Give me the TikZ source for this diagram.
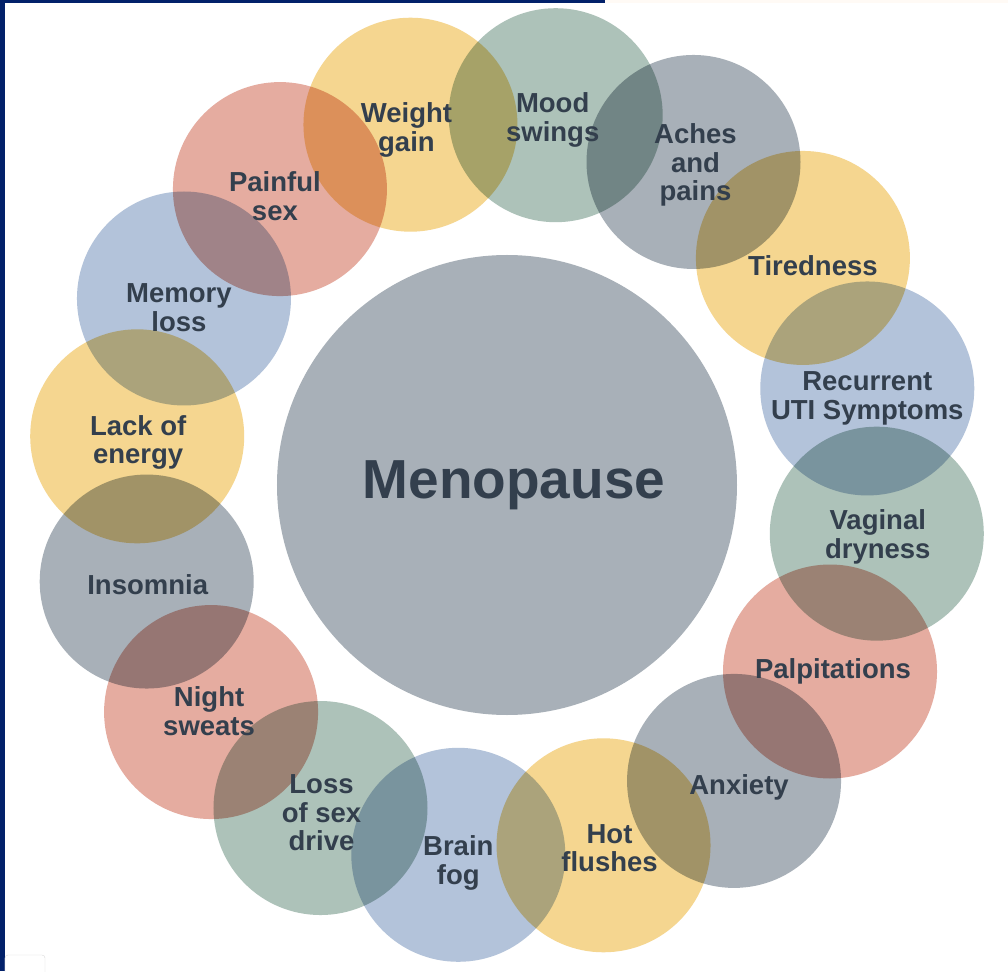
\documentclass[tikz,border=0pt]{standalone}
\usepackage{fontspec}
\setmainfont{Liberation Sans}

\definecolor{zolty}{HTML}{F5D690}
\definecolor{zielony}{HTML}{ADC2B9}
\definecolor{szary}{HTML}{A8B0B8}
\definecolor{niebieski}{HTML}{B3C3DA}
\definecolor{czerwony}{HTML}{E5ACA0}
\definecolor{tekst}{HTML}{333F4D}
\definecolor{ramka}{HTML}{02216A}

\begin{document}
\begin{tikzpicture}[x = 1pt, y = 1pt,
		bubble/.style = {circle, minimum size = 214pt, inner sep = 0pt, blend mode = multiply},
		napis/.style = {align = center, inner sep = 0pt, yshift = -3, text = tekst, font = \bfseries\fontsize{27.5}{28.5}\selectfont}]
		\useasboundingbox (-507,-486) rectangle (501,485);
		\fill[white] (-507,-486) rectangle (501,485);
		
		% srodkowe kolo
		\node[bubble, fill = szary, minimum size = 460pt] (meno) at (0,0) {};
		\node[napis, xshift = 7, yshift = 3, font = \bfseries\fontsize{55}{60}\selectfont] (meno-t) at (meno) {Menopause};
		
		% objawy dookola, co 22.5 stopnia
		\node[bubble, fill = zolty] (weight) at (105:373) {};
		\node[bubble, fill = zielony] (mood) at (82.5:373) {};
		\node[bubble, fill = szary] (aches) at (60:373) {};
		\node[bubble, fill = zolty] (tired) at (37.5:373) {};
		\node[bubble, fill = niebieski] (uti) at (15:373) {};
		\node[bubble, fill = zielony] (dry) at (-7.5:373) {};
		\node[bubble, fill = czerwony] (palp) at (-30:373) {};
		\node[bubble, fill = szary] (anx) at (-52.5:373) {};
		\node[bubble, fill = zolty] (hot) at (-75:373) {};
		\node[bubble, fill = niebieski] (fog) at (-97.5:373) {};
		\node[bubble, fill = zielony] (libido) at (-120:373) {};
		\node[bubble, fill = czerwony] (night) at (-142.5:373) {};
		\node[bubble, fill = szary] (insom) at (-165:373) {};
		\node[bubble, fill = zolty] (energy) at (172.5:373) {};
		\node[bubble, fill = niebieski] (memory) at (150:373) {};
		\node[bubble, fill = czerwony] (pain) at (127.5:373) {};
		
		% napisy (troche przesuniete wzgledem srodkow)
		\node[napis, xshift = -4, yshift = -2] (weight-t) at (weight) {Weight\\gain};
		\node[napis, xshift = -3, yshift = -2] (mood-t) at (mood) {Mood\\swings};
		\node[napis, xshift = 2] (aches-t) at (aches) {Aches\\and\\pains};
		\node[napis, xshift = 10, yshift = -5] (tired-t) at (tired) {Tiredness};
		\node[napis, yshift = -7] (uti-t) at (uti) {Recurrent\\UTI Symptoms};
		\node[napis, xshift = 1] (dry-t) at (dry) {Vaginal\\dryness};
		\node[napis, xshift = 3, yshift = 3] (palp-t) at (palp) {Palpitations};
		\node[napis, xshift = 5, yshift = -3] (anx-t) at (anx) {Anxiety};
		\node[napis, xshift = 6] (hot-t) at (hot) {Hot\\flushes};
		\node[napis, yshift = -5] (fog-t) at (fog) {Brain\\fog};
		\node[napis, xshift = 1, yshift = -2] (libido-t) at (libido) {Loss\\of sex\\drive};
		\node[napis, xshift = -2, yshift = 4] (night-t) at (night) {Night\\sweats};
		\node[napis, xshift = 1] (insom-t) at (insom) {Insomnia};
		\node[napis, xshift = 1, yshift = -3] (energy-t) at (energy) {Lack of\\energy};
		\node[napis, xshift = -5, yshift = -6] (memory-t) at (memory) {Memory\\loss};
		\node[napis, xshift = -5, yshift = -4] (pain-t) at (pain) {Painful\\sex};
		
		% ramka
		\fill[ramka] (-507,-486) rectangle (-502,485);
		\fill[ramka] (-507,482) rectangle (98,485);
		\fill[orange!4] (98,482) rectangle (501,485);
		\draw[black!15, fill = white, rounded corners = 3pt] (-502,-487) -- (-502,-470) -- (-462,-470) -- (-462,-487);
	\end{tikzpicture}
\end{document}
